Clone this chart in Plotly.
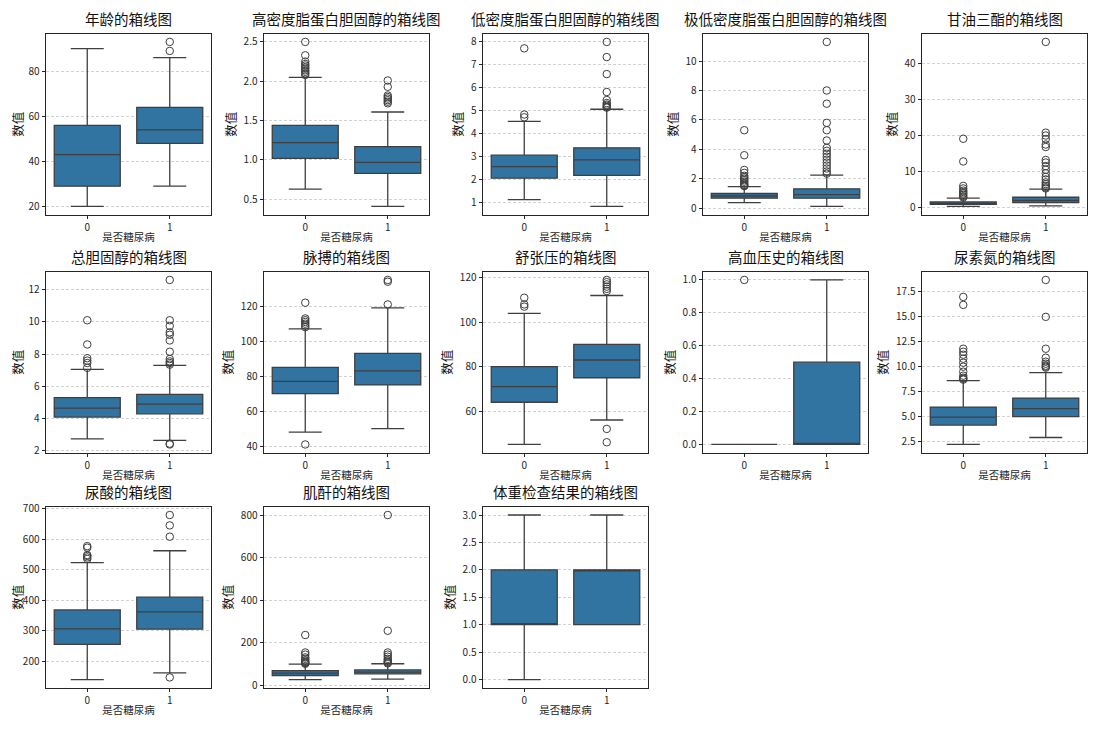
import plotly.graph_objects as go
from plotly.subplots import make_subplots

# box stats per group: [lower whisker, q1, median, q3, upper whisker]
titles = ["年龄", "高密度脂蛋白胆固醇", "低密度脂蛋白胆固醇", "极低密度脂蛋白胆固醇", "甘油三酯",
          "总胆固醇", "脉搏", "舒张压", "高血压史", "尿素氮",
          "尿酸", "肌酐", "体重检查结果"]
groups = [0, 1]

age_box = [[20, 29, 43, 56, 90], [29, 48, 54, 64, 86]]
age_out = [[], [89, 93]]
age_ticks = [20, 40, 60, 80]

hdl_box = [[0.63, 1.02, 1.22, 1.44, 2.05], [0.41, 0.83, 0.97, 1.17, 1.61]]
hdl_out = [[2.08, 2.10, 2.12, 2.14, 2.16, 2.18, 2.20, 2.22, 2.25, 2.33, 2.50],
           [1.72, 1.74, 1.76, 1.78, 1.80, 1.82, 1.93, 2.01]]
hdl_ticks = [0.5, 1.0, 1.5, 2.0, 2.5]

ldl_box = [[1.12, 2.05, 2.55, 3.05, 4.52], [0.82, 2.17, 2.85, 3.37, 5.05]]
ldl_out = [[4.70, 4.82, 7.70],
           [5.12, 5.15, 5.20, 5.25, 5.32, 5.45, 5.80, 6.58, 7.32, 7.98]]
ldl_ticks = [1, 2, 3, 4, 5, 6, 7, 8]

vldl_box = [[0.38, 0.68, 0.83, 1.00, 1.47], [0.12, 0.68, 0.92, 1.32, 2.25]]
vldl_out = [[1.50, 1.55, 1.60, 1.70, 1.80, 1.90, 2.00, 2.10, 2.20, 2.40, 2.60, 3.60, 5.30],
            [2.35, 2.50, 2.70, 2.90, 3.10, 3.30, 3.50, 3.70, 3.90, 4.10, 4.60, 5.30, 5.80,
             7.10, 8.00, 11.30]]
vldl_ticks = [0, 2, 4, 6, 8, 10]

tg_box = [[0.30, 0.85, 1.15, 1.55, 2.60], [0.45, 1.40, 2.00, 2.85, 5.10]]
tg_out = [[2.8, 3.1, 3.5, 3.9, 4.3, 4.7, 5.3, 6.0, 12.8, 19.1],
          [5.3, 5.6, 6.0, 6.5, 7.0, 7.8, 8.5, 9.5, 10.5, 11.5, 12.5, 13.2, 16.8, 17.5,
           19.0, 20.0, 20.8, 46.0]]
tg_ticks = [0, 10, 20, 30, 40]

tc_box = [[2.75, 4.10, 4.65, 5.30, 7.05], [2.65, 4.30, 4.90, 5.50, 7.30]]
tc_out = [[7.15, 7.45, 7.60, 7.75, 8.60, 10.10],
          [2.40, 2.45, 7.35, 7.45, 7.55, 7.70, 8.15, 8.85, 9.20, 9.35, 9.75, 10.10, 12.60]]
tc_ticks = [2, 4, 6, 8, 10, 12]

pulse_box = [[48, 70, 77, 85, 107], [50, 75, 83, 93, 119]]
pulse_out = [[41, 108, 109, 110, 111, 112, 113, 122], [121, 134, 135]]
pulse_ticks = [40, 60, 80, 100, 120]

dbp_box = [[45, 64, 71, 80, 104], [56, 75, 83, 90, 112]]
dbp_out = [[107, 108, 111], [46, 52, 114, 115, 116, 117, 118, 119]]
dbp_ticks = [60, 80, 100, 120]

htn_box = [[0, 0, 0, 0, 0], [0, 0, 0, 0.5, 1]]
htn_out = [[1], []]
htn_ticks = [0.0, 0.2, 0.4, 0.6, 0.8, 1.0]

bun_box = [[2.2, 4.15, 4.95, 5.95, 8.6], [2.9, 5.0, 5.8, 6.85, 9.4]]
bun_out = [[8.7, 8.8, 8.9, 9.1, 9.5, 10.0, 10.4, 10.8, 11.2, 11.5, 11.8, 16.2, 17.0],
           [9.9, 10.0, 10.1, 10.3, 10.5, 10.9, 11.8, 15.0, 18.7]]
bun_ticks = [2.5, 5.0, 7.5, 10.0, 12.5, 15.0, 17.5]

ua_box = [[140, 255, 306, 368, 523], [162, 305, 362, 410, 562]]
ua_out = [[535, 540, 545, 548, 572, 577], [147, 608, 645, 679]]
ua_ticks = [200, 300, 400, 500, 600, 700]

cr_box = [[28, 47, 58, 70, 100], [30, 55, 63, 73, 102]]
cr_out = [[102, 105, 108, 112, 118, 125, 132, 145, 155, 237],
          [104, 108, 112, 118, 125, 135, 145, 155, 257, 800]]
cr_ticks = [0, 200, 400, 600, 800]

wt_box = [[0, 1, 1, 2, 3], [1, 1, 2, 2, 3]]
wt_out = [[], []]
wt_ticks = [0.0, 0.5, 1.0, 1.5, 2.0, 2.5, 3.0]

boxes = [age_box, hdl_box, ldl_box, vldl_box, tg_box, tc_box, pulse_box, dbp_box,
         htn_box, bun_box, ua_box, cr_box, wt_box]
outs = [age_out, hdl_out, ldl_out, vldl_out, tg_out, tc_out, pulse_out, dbp_out,
        htn_out, bun_out, ua_out, cr_out, wt_out]
ticks = [age_ticks, hdl_ticks, ldl_ticks, vldl_ticks, tg_ticks, tc_ticks, pulse_ticks,
         dbp_ticks, htn_ticks, bun_ticks, ua_ticks, cr_ticks, wt_ticks]
tick_fmt = ["d", ".1f", "d", "d", "d", "d", "d", "d", ".1f", ".1f", "d", "d", ".1f"]

# the page body has an 8px margin, so the figure is drawn 8px smaller and shifted
PAGE = 8
W, H = 1102 - PAGE, 739 - PAGE
col_left = [x - PAGE for x in (46, 264, 483, 703, 922)]
col_w = 165
row_top = [y - PAGE for y in (27, 269, 508)]
row_h = 184

FONT = "Noto Sans CJK SC, Noto Sans, sans-serif"
BOX_FILL = "#3274a1"
LINE = "#3f3f3f"

fig = make_subplots(rows=3, cols=5)

for i, name in enumerate(titles):
    r, c = divmod(i, 5)
    n = i + 1
    for g in groups:
        lf, q1, med, q3, uf = boxes[i][g]
        fig.add_trace(go.Box(
            x=[g], q1=[q1], median=[med], q3=[q3], lowerfence=[lf], upperfence=[uf],
            width=0.8, whiskerwidth=0.5, fillcolor=BOX_FILL,
            line=dict(color=LINE, width=1.3), boxpoints=False,
            showlegend=False, hoverinfo="skip",
        ), row=r + 1, col=c + 1)
        if outs[i][g]:
            fig.add_trace(go.Scatter(
                x=[g] * len(outs[i][g]), y=outs[i][g], mode="markers",
                marker=dict(symbol="circle-open", size=7.5, color=LINE, line=dict(width=1)),
                showlegend=False, hoverinfo="skip",
            ), row=r + 1, col=c + 1)

    vals = [v for g in groups for v in boxes[i][g]] + [v for g in groups for v in outs[i][g]]
    lo, hi = min(vals), max(vals)
    pad = (hi - lo) * 0.05

    x0 = col_left[c] / W
    x1 = (col_left[c] + col_w) / W
    y1 = 1 - row_top[r] / H
    y0 = 1 - (row_top[r] + row_h) / H

    fig.layout[f"xaxis{'' if n == 1 else n}"].update(
        domain=[x0, x1], range=[-0.5, 1.5], tickvals=groups, ticktext=["0", "1"],
        showgrid=False, zeroline=False, showline=True, mirror=True,
        linecolor="#262626", linewidth=1, ticks="outside", ticklen=3.5,
        tickcolor="#262626", tickfont=dict(size=10, color="#262626", family=FONT),
        title=dict(text="是否糖尿病", font=dict(size=10.5, color="#262626", family=FONT),
                   standoff=0),
    )
    fig.layout[f"yaxis{'' if n == 1 else n}"].update(
        domain=[y0, y1], range=[lo - pad, hi + pad], tickvals=ticks[i],
        tickformat=tick_fmt[i],
        showgrid=True, gridcolor="#d2d2d2", griddash="3px,2px", gridwidth=0.8,
        zeroline=False, showline=True, mirror=True,
        linecolor="#262626", linewidth=1, ticks="outside", ticklen=3.5,
        tickcolor="#262626", tickfont=dict(size=10, color="#262626", family=FONT),
        title=dict(text="数值", font=dict(size=12.5, color="#111111", family=FONT),
                   standoff=4),
    )
    fig.add_annotation(
        text=f"{name}的箱线图", x=(x0 + x1) / 2, y=y1, xref="paper", yref="paper",
        xanchor="center", yanchor="bottom", yshift=3, showarrow=False,
        font=dict(size=14.5, color="#111111", family=FONT),
    )

fig.update_layout(
    width=W, height=H, margin=dict(l=0, r=0, t=0, b=0),
    paper_bgcolor="white", plot_bgcolor="white",
    font=dict(family=FONT),
)

fig.write_html("out.html")
